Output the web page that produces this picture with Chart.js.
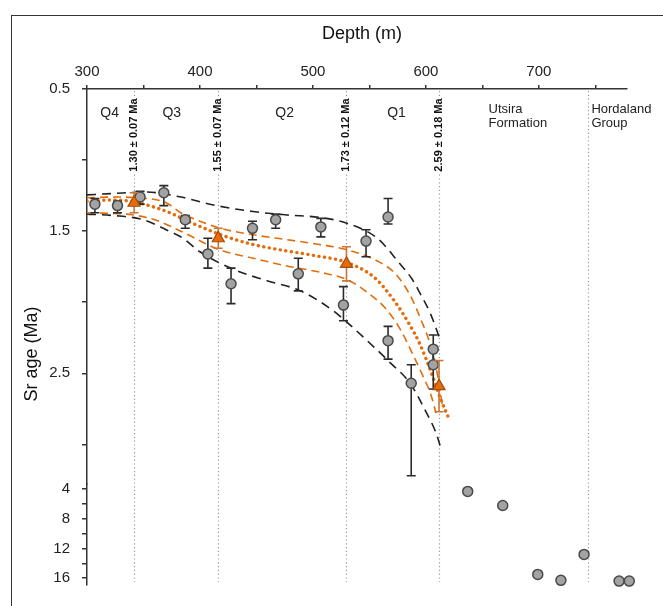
<!DOCTYPE html>
<html>
<head>
<meta charset="utf-8">
<script src="https://cdn.jsdelivr.net/npm/chart.js@4.4.0/dist/chart.umd.min.js"></script>
<style>
  html, body { margin: 0; padding: 0; background: #fff; }
  #wrap { position: relative; width: 663px; height: 606px; overflow: hidden; }
  #frame { position: absolute; left: 11px; top: 15px; width: 720px; height: 700px; border: 1.5px solid #333; }
  canvas { position: absolute; left: 0; top: 0; }
</style>
</head>
<body>
<div id="wrap">
  <div id="frame"></div>
  <canvas id="chart" width="663" height="606"></canvas>
</div>
<script>
// Sr ages of the Quaternary samples (Ma), with lower/upper error limits
const grayDepth = [307, 327, 347, 368, 387, 407, 427.5, 446.5, 467, 487, 507, 527, 547, 566.5, 566.5, 587, 606.5, 606.5];
const grayAge   = [1.31, 1.32, 1.26, 1.23, 1.42, 1.66, 1.87, 1.48, 1.42, 1.80, 1.47, 2.02, 1.57, 1.40, 2.27, 2.57, 2.33, 2.44];
const grayLo    = [1.27, 1.29, 1.22, 1.18, 1.39, 1.55, 1.76, 1.43, 1.38, 1.69, 1.41, 1.89, 1.49, 1.27, 2.17, 2.44, 2.23, 2.33];
const grayHi    = [1.37, 1.37, 1.31, 1.32, 1.48, 1.76, 2.01, 1.56, 1.48, 1.92, 1.54, 2.13, 1.68, 1.45, 2.40, 3.22, 2.44, 2.61];

// Utsira / Hordaland samples (lower axis)
const oldDepth = [637, 668, 699, 719.5, 740, 771, 780];
const oldAge   = [4.3, 6.2, 15.5, 16.3, 12.8, 16.4, 16.4];

// unit boundaries with modelled ages
const boundaryDepth = [341.7, 416.2, 529.7, 611.6];
const boundaryAge   = [1.30, 1.55, 1.73, 2.59];
const boundaryErr   = [0.07, 0.07, 0.12, 0.18];
const hordalandDepth = 743.5;

const zoneNames = ['Q4', 'Q3', 'Q2', 'Q1'];
const zoneDepth = [320, 375, 475, 574];
const unitNames = [['Utsira', 'Formation'], ['Hordaland', 'Group']];
const unitDepth = [655.5, 746.5];

// age model: best fit, confidence band, envelope
const fitDepth = [300, 325, 345, 370, 395, 420, 445, 470, 500, 530, 555, 572, 585, 595, 605, 613, 621];
const fitAge   = [1.29, 1.28, 1.30, 1.36, 1.45, 1.53, 1.59, 1.63, 1.67, 1.72, 1.83, 1.99, 2.15, 2.30, 2.50, 2.68, 2.83];
const ciUpDepth = [300, 325, 345, 370, 383, 400, 418, 447, 477, 507, 530, 557, 573, 586, 596, 604, 610, 615];
const ciUpAge   = [1.265, 1.26, 1.265, 1.30, 1.37, 1.43, 1.48, 1.525, 1.56, 1.595, 1.63, 1.71, 1.80, 1.95, 2.13, 2.30, 2.50, 2.75];
const ciLoDepth = [300, 340, 360, 383, 417, 447, 477, 507, 530, 548, 565, 578, 588, 598, 604, 609];
const ciLoAge   = [1.37, 1.385, 1.42, 1.50, 1.63, 1.69, 1.745, 1.79, 1.84, 1.93, 2.05, 2.20, 2.36, 2.53, 2.64, 2.78];
const envUpDepth = [300, 323, 353, 382, 412, 447, 477, 507, 530, 557, 577, 588, 595, 604, 612];
const envUpAge   = [1.245, 1.235, 1.225, 1.258, 1.316, 1.362, 1.386, 1.404, 1.444, 1.55, 1.73, 1.84, 1.94, 2.08, 2.25];
const envLoDepth = [300, 323, 350, 370, 385, 400, 430, 460, 489, 518, 530, 548, 569, 586, 600, 609, 613];
const envLoAge   = [1.38, 1.39, 1.42, 1.49, 1.55, 1.645, 1.77, 1.85, 1.92, 2.06, 2.14, 2.27, 2.43, 2.57, 2.77, 2.92, 3.02];

// axis ticks
const xTicks = [300, 350, 400, 450, 500, 550, 600, 650, 700, 750];
const xLabels = [300, 400, 500, 600, 700];
const yTicks = [0.5, 1, 1.5, 2, 2.5, 3];
const yLabels = [0.5, 1.5, 2.5];
const yOldTicks = [4, 6, 8, 10, 12, 14, 16];
const yOldLabels = [4, 8, 12, 16];

const FONT = '"Liberation Sans", Arial, sans-serif';
const axisColor = '#333';
const orange = '#E46C0A';

const pts = (xs, ys) => xs.map((x, i) => ({ x: x, y: ys[i] }));

const curve = (xs, ys, color, dash, width, order) => ({
  data: pts(xs, ys),
  showLine: true,
  borderColor: color,
  borderWidth: width,
  borderDash: dash,
  borderCapStyle: dash[0] < 1 ? 'round' : 'butt',
  cubicInterpolationMode: 'monotone',
  pointRadius: 0,
  fill: false,
  yAxisID: 'y',
  order: order
});

const decor = {
  id: 'decor',
  beforeDatasetsDraw(chart) {
    const { ctx, chartArea, scales } = chart;
    const x = scales.x;
    ctx.save();
    // boundary lines
    ctx.strokeStyle = '#9a9a9a';
    ctx.lineWidth = 1.2;
    ctx.setLineDash([1.2, 2.6]);
    boundaryDepth.concat([hordalandDepth]).forEach(d => {
      const px = Math.round(x.getPixelForValue(d)) + 0.5;
      ctx.beginPath();
      ctx.moveTo(px, chartArea.top + 2);
      ctx.lineTo(px, chartArea.bottom - 3);
      ctx.stroke();
    });
    ctx.setLineDash([]);

    ctx.fillStyle = '#222';
    ctx.font = '14px ' + FONT;
    ctx.textAlign = 'center';
    ctx.textBaseline = 'middle';
    zoneNames.forEach((t, i) => ctx.fillText(t, x.getPixelForValue(zoneDepth[i]), chartArea.top + 24));

    ctx.font = '13px ' + FONT;
    ctx.textAlign = 'left';
    unitNames.forEach((lines, i) => {
      lines.forEach((t, j) => ctx.fillText(t, x.getPixelForValue(unitDepth[i]), chartArea.top + 20 + j * 14.5));
    });

    // boundary ages, written along the lines
    ctx.font = 'bold 11px ' + FONT;
    boundaryDepth.forEach((d, i) => {
      const label = boundaryAge[i].toFixed(2) + ' \u00b1 ' + boundaryErr[i].toFixed(2) + ' Ma';
      const px = x.getPixelForValue(d) - 0.5;
      ctx.save();
      ctx.translate(px, chartArea.top + 46);
      ctx.rotate(-Math.PI / 2);
      const w = ctx.measureText(label).width;
      ctx.fillStyle = '#fff';
      ctx.fillRect(-w / 2 - 2, -6, w + 4, 12);
      ctx.fillStyle = '#111';
      ctx.textAlign = 'center';
      ctx.fillText(label, 0, 0);
      ctx.restore();
    });
    ctx.restore();
  },
  beforeDatasetDraw(chart, args) {
    const ds = chart.data.datasets[args.index];
    if (!ds.errLo) return;
    const ctx = chart.ctx;
    const xs = chart.scales[args.meta.xAxisID];
    const ys = chart.scales[args.meta.yAxisID];
    ctx.save();
    ctx.strokeStyle = ds.errColor;
    ctx.lineWidth = 1.6;
    ds.data.forEach((p, i) => {
      const px = xs.getPixelForValue(p.x);
      const y1 = ys.getPixelForValue(ds.errLo[i]);
      const y2 = ys.getPixelForValue(ds.errHi[i]);
      ctx.beginPath();
      ctx.moveTo(px, y1); ctx.lineTo(px, y2);
      ctx.moveTo(px - 4.5, y1); ctx.lineTo(px + 4.5, y1);
      ctx.moveTo(px - 4.5, y2); ctx.lineTo(px + 4.5, y2);
      ctx.stroke();
    });
    ctx.restore();
  },
  afterDraw(chart) {
    const { ctx, chartArea } = chart;
    ctx.save();
    ctx.fillStyle = '#111';
    ctx.font = '18px ' + FONT;
    ctx.textAlign = 'center';
    ctx.textBaseline = 'middle';
    ctx.fillText('Depth (m)', (chartArea.left + chartArea.right) / 2 + 5, 34);
    ctx.translate(32, 354);
    ctx.rotate(-Math.PI / 2);
    ctx.fillText('Sr age (Ma)', 0, 0);
    ctx.restore();
  }
};

const yAxisBase = (ticks, labels) => ({
  type: 'linear',
  position: 'left',
  stack: 'age',
  reverse: true,
  afterBuildTicks: s => { s.ticks = ticks.map(v => ({ value: v })); },
  afterFit: s => { s.width = 87; },
  ticks: {
    callback: v => labels.includes(v) ? String(v) : '',
    font: { family: FONT, size: 15 },
    color: '#222',
    padding: 12,
    autoSkip: false
  },
  grid: { drawOnChartArea: false, tickLength: 5, color: axisColor, lineWidth: 1.5 },
  border: { color: axisColor, width: 1.5 }
});

let ctx = document.getElementById('chart').getContext('2d');

let chart = new Chart(ctx, {
  type: 'scatter',
  data: {
    datasets: [
      {
        data: pts(boundaryDepth, boundaryAge),
        errLo: boundaryAge.map((v, i) => v - boundaryErr[i]),
        errHi: boundaryAge.map((v, i) => v + boundaryErr[i]),
        errColor: '#C8763A',
        pointStyle: 'triangle',
        pointRadius: 7,
        backgroundColor: orange,
        borderColor: '#A84C0C',
        borderWidth: 1.2,
        yAxisID: 'y',
        order: 0
      },
      {
        data: pts(grayDepth, grayAge),
        errLo: grayLo,
        errHi: grayHi,
        errColor: '#2b2b2b',
        pointRadius: 5,
        backgroundColor: '#a3a3a3',
        borderColor: '#4a4a4a',
        borderWidth: 1.5,
        yAxisID: 'y',
        order: 1
      },
      {
        data: pts(oldDepth, oldAge),
        pointRadius: 5,
        backgroundColor: '#a3a3a3',
        borderColor: '#4a4a4a',
        borderWidth: 1.5,
        yAxisID: 'yOld',
        clip: false,
        order: 1
      },
      curve(fitDepth, fitAge, orange, [0.1, 5.5], 3.4, 3),
      curve(ciUpDepth, ciUpAge, orange, [8, 5], 1.6, 4),
      curve(ciLoDepth, ciLoAge, orange, [8, 5], 1.6, 4),
      curve(envUpDepth, envUpAge, '#222', [9, 6], 1.6, 5),
      curve(envLoDepth, envLoAge, '#222', [9, 6], 1.6, 5)
    ]
  },
  options: {
    responsive: false,
    animation: false,
    layout: { padding: { left: 0, top: 0, right: 36, bottom: 15 }, autoPadding: false },
    plugins: { legend: { display: false }, tooltip: { enabled: false } },
    scales: {
      x: {
        type: 'linear',
        position: 'top',
        min: 300,
        max: 778,
        afterBuildTicks: s => { s.ticks = xTicks.map(v => ({ value: v })); },
        afterFit: s => { s.height = 89; },
        ticks: {
          callback: v => xLabels.includes(v) ? String(v) : '',
          font: { family: FONT, size: 15 },
          color: '#222',
          padding: 4,
          maxRotation: 0,
          autoSkip: false
        },
        grid: { drawOnChartArea: false, tickLength: 4, color: axisColor, lineWidth: 1.5 },
        border: { color: axisColor, width: 1.5 }
      },
      yOld: Object.assign(yAxisBase(yOldTicks, yOldLabels), { min: 3.33, max: 16.93, stackWeight: 102, weight: 0 }),
      y: Object.assign(yAxisBase(yTicks, yLabels), { min: 0.5, max: 3.28, stackWeight: 400, weight: 1 })
    }
  },
  plugins: [decor]
});
</script>
</body>
</html>
